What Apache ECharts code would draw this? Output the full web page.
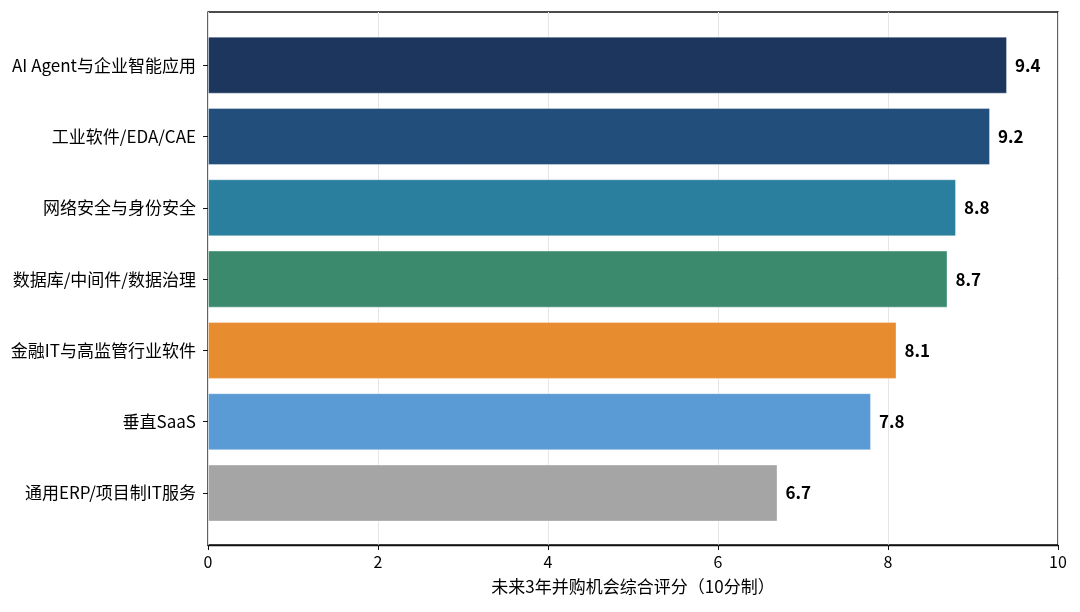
<!DOCTYPE html>
<html>
<head>
<meta charset="utf-8">
<script src="https://cdn.jsdelivr.net/npm/echarts@6/dist/echarts.min.js"></script>
<style>
html,body{margin:0;padding:0;background:#fff;}
#chart{width:1080px;height:612px;}
</style>
</head>
<body>
<div id="chart"></div>
<script>
const categories = ['AI Agent与企业智能应用','工业软件/EDA/CAE','网络安全与身份安全','数据库/中间件/数据治理','金融IT与高监管行业软件','垂直SaaS','通用ERP/项目制IT服务'];
const scores = [9.4, 9.2, 8.8, 8.7, 8.1, 7.8, 6.7];
const barColors = ['#1c365d','#214e7a','#2a7f9e','#3c8a6e','#e88c30','#5b9bd5','#a5a5a5'];
const xTicks = [0, 2, 4, 6, 8, 10];
const xTitle = '未来3年并购机会综合评分（10分制）';

const FONT = '"Noto Sans CJK SC","Noto Sans",sans-serif';
const chart = echarts.init(document.getElementById('chart'), null, {renderer:'canvas'});
chart.setOption({
  backgroundColor:'#fff',
  animation:false,
  textStyle:{fontFamily:FONT},
  grid:[
    {left:208, right:22, top:12, bottom:67, show:true, borderColor:'#111', borderWidth:1.3, backgroundColor:'transparent'},
    {left:208, right:22, top:29.5, bottom:83.3}
  ],
  xAxis:[
    {gridIndex:0, type:'value', min:xTicks[0], max:xTicks[xTicks.length-1], interval:2,
     axisLine:{show:true, lineStyle:{color:'#111', width:1.3}},
     axisTick:{show:true, length:5, lineStyle:{color:'#111'}},
     axisLabel:{fontSize:16, color:'#000', margin:9, fontFamily:FONT},
     splitLine:{show:true, lineStyle:{color:'#e6e6e6', width:1}},
     name:xTitle, nameLocation:'middle', nameGap:33,
     nameTextStyle:{fontSize:17, color:'#000', fontFamily:FONT}},
    {gridIndex:1, type:'value', min:xTicks[0], max:xTicks[xTicks.length-1], show:false, splitLine:{show:false}}
  ],
  yAxis:[
    {gridIndex:0, type:'value', min:0, max:1, show:false, splitLine:{show:false}},
    {gridIndex:1, type:'category', data:categories, inverse:true,
     axisLine:{show:false},
     axisTick:{show:true, length:5, alignWithLabel:true, lineStyle:{color:'#111'}},
     axisLabel:{fontSize:17, color:'#000', margin:12, fontFamily:FONT},
     splitLine:{show:false}}
  ],
  series:[{
    type:'bar', xAxisIndex:1, yAxisIndex:1,
    data: scores.map((v,i)=>({value:v, itemStyle:{color:barColors[i]}})),
    barCategoryGap:'20%',
    itemStyle:{borderColor:'rgba(255,255,255,0.35)', borderWidth:1},
    label:{show:true, position:'right', distance:8, fontSize:17, fontWeight:'bold', color:'#000', fontFamily:FONT,
      formatter:p=>p.value.toFixed(1)}
  }]
});
</script>
</body>
</html>
